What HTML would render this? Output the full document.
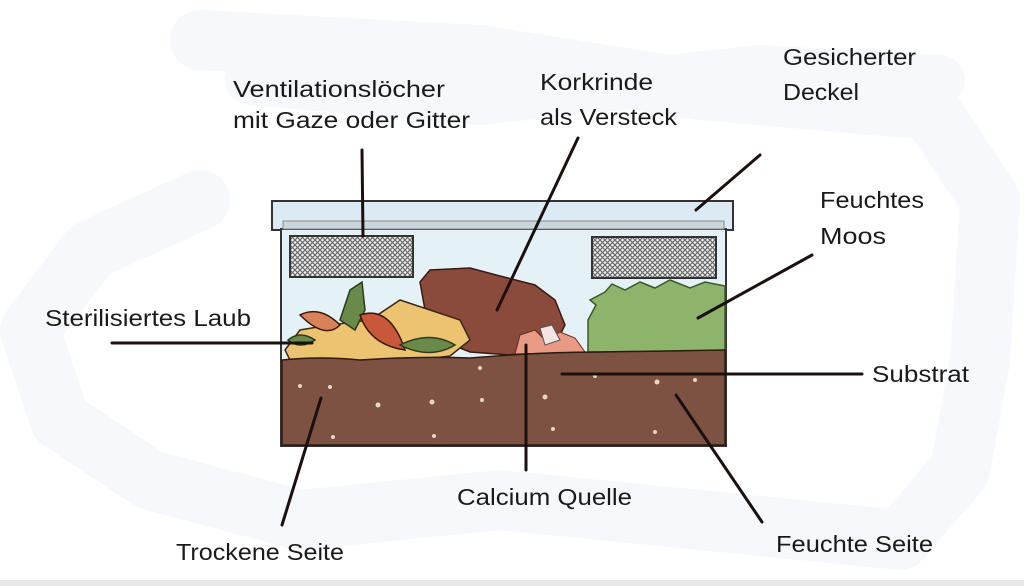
<!DOCTYPE html>
<html><head><meta charset="utf-8"><style>
html,body{margin:0;padding:0;background:#fff;}
svg{display:block}
text{font-family:"Liberation Sans",sans-serif;font-size:23px;fill:#1a1a1a}
</style></head><body>
<svg width="1024" height="586" viewBox="0 0 1024 586" xmlns="http://www.w3.org/2000/svg">
<defs>
<pattern id="mesh" width="5" height="5" patternUnits="userSpaceOnUse">
<rect width="5" height="5" fill="#f2f2f2"/>
<path d="M0 0L5 5M5 0L0 5" stroke="#6a6a6a" stroke-width="1.2"/>
</pattern>
</defs>
<g fill="none" stroke="#f6f8fc" stroke-linecap="round" stroke-linejoin="round">
<path d="M200 40 L480 55 L700 90 L930 110 L990 200 L980 360 L960 470 L900 540 L700 520 L500 500 L300 520 L150 480 L60 420 L30 330 L90 250 L200 200" stroke-width="60"/>
<path d="M250 80 L480 100 L760 70 L940 80" stroke-width="50"/>
</g>
<rect x="272" y="201" width="461" height="29" fill="#dcebf3" stroke="#333" stroke-width="2"/>
<rect x="281" y="229" width="445" height="217" fill="#e4f1f6" stroke="#333" stroke-width="2"/>
<rect x="283" y="221" width="441" height="8" fill="#c9d6dc" stroke="#888" stroke-width="1"/>
<rect x="290" y="236" width="123" height="41" fill="url(#mesh)" stroke="#333" stroke-width="2"/>
<rect x="592" y="237" width="124" height="41" fill="url(#mesh)" stroke="#333" stroke-width="2"/>
<path d="M588 352 L588 320 L596 305 L590 300 L605 292 L612 284 L625 290 L640 282 L655 288 L670 280 L690 288 L705 282 L725 286 L725 352 Z" fill="#8db46a" stroke="#3a5a2a" stroke-width="1.5"/>
<path d="M420 282 L430 270 L470 268 L500 276 L535 285 L555 300 L565 325 L555 345 L510 355 L470 352 L440 340 L425 310 Z" fill="#8a4a3c" stroke="#3a1a14" stroke-width="1.5"/>
<path d="M520 335 L535 330 L545 340 L560 332 L575 338 L585 352 L515 354 Z" fill="#e89a84" stroke="#6a2a20" stroke-width="1"/>
<path d="M540 328 L552 325 L560 340 L545 345 Z" fill="#f4e4e4" stroke="#555" stroke-width="1"/>
<path d="M285 350 L300 330 L330 325 L370 320 L400 300 L430 310 L460 320 L470 340 L450 356 L400 362 L340 364 L290 360 Z" fill="#ecc370" stroke="#3a2a1a" stroke-width="1.5"/>
<path d="M300 315 Q320 305 340 325 Q325 340 300 315 Z" fill="#d9825a" stroke="#3a1a10" stroke-width="1.5"/>
<path d="M340 320 L350 290 L362 282 L365 310 L355 330 Z" fill="#6a8a4c" stroke="#2a3a1a" stroke-width="1.5"/>
<path d="M360 315 Q390 305 405 350 Q370 345 360 315 Z" fill="#c9583a" stroke="#3a1a10" stroke-width="1.5"/>
<path d="M400 345 Q430 330 455 345 Q430 360 400 345 Z" fill="#6a8a4c" stroke="#2a3a1a" stroke-width="1.5"/>
<path d="M288 340 Q300 330 315 340 Q300 350 288 340 Z" fill="#6a8a4c" stroke="#2a3a1a" stroke-width="1.5"/>
<path d="M282 360 Q320 356 360 360 Q420 356 470 358 Q540 352 600 352 L725 350 L725 445 L282 445 Z" fill="#7d5242" stroke="#2a1a10" stroke-width="1.5"/>
<g fill="#e8d8c0">
<circle cx="300" cy="386" r="2"/><circle cx="330" cy="387" r="2"/><circle cx="378" cy="405" r="2.5"/><circle cx="432" cy="402" r="2.5"/><circle cx="480" cy="368" r="2"/><circle cx="545" cy="397" r="2.5"/><circle cx="595" cy="376" r="2"/><circle cx="657" cy="382" r="2.5"/><circle cx="695" cy="380" r="2"/><circle cx="333" cy="437" r="2"/><circle cx="434" cy="436" r="2"/><circle cx="553" cy="429" r="2"/><circle cx="655" cy="432" r="2"/><circle cx="482" cy="400" r="2"/>
</g>
<g stroke="#1a1010" stroke-width="3" stroke-linecap="round" fill="none">
<line x1="362" y1="150" x2="363" y2="236"/>
<line x1="578" y1="138" x2="497" y2="310"/>
<line x1="760" y1="155" x2="696" y2="210"/>
<line x1="812" y1="255" x2="698" y2="318"/>
<line x1="112" y1="343" x2="312" y2="343"/>
<line x1="562" y1="374" x2="862" y2="374"/>
<line x1="526" y1="345" x2="526" y2="470"/>
<line x1="321" y1="398" x2="282" y2="525"/>
<line x1="676" y1="395" x2="762" y2="522"/>
</g>
<g>
<text x="233" y="97" textLength="212" lengthAdjust="spacingAndGlyphs">Ventilationslöcher</text>
<text x="233" y="128" textLength="237" lengthAdjust="spacingAndGlyphs">mit Gaze oder Gitter</text>
<text x="540" y="90" textLength="113" lengthAdjust="spacingAndGlyphs">Korkrinde</text>
<text x="540" y="125" textLength="137" lengthAdjust="spacingAndGlyphs">als Versteck</text>
<text x="783" y="65" textLength="133" lengthAdjust="spacingAndGlyphs">Gesicherter</text>
<text x="783" y="100" textLength="76" lengthAdjust="spacingAndGlyphs">Deckel</text>
<text x="820" y="208" textLength="104" lengthAdjust="spacingAndGlyphs">Feuchtes</text>
<text x="820" y="244" textLength="66" lengthAdjust="spacingAndGlyphs">Moos</text>
<text x="45" y="326" textLength="206" lengthAdjust="spacingAndGlyphs">Sterilisiertes Laub</text>
<text x="872" y="382" textLength="97" lengthAdjust="spacingAndGlyphs">Substrat</text>
<text x="457" y="505" textLength="175" lengthAdjust="spacingAndGlyphs">Calcium Quelle</text>
<text x="176" y="560" textLength="168" lengthAdjust="spacingAndGlyphs">Trockene Seite</text>
<text x="776" y="552" textLength="157" lengthAdjust="spacingAndGlyphs">Feuchte Seite</text>
</g>
<rect x="0" y="580" width="1024" height="6" fill="#e6e6e6"/>
</svg>
</body></html>
